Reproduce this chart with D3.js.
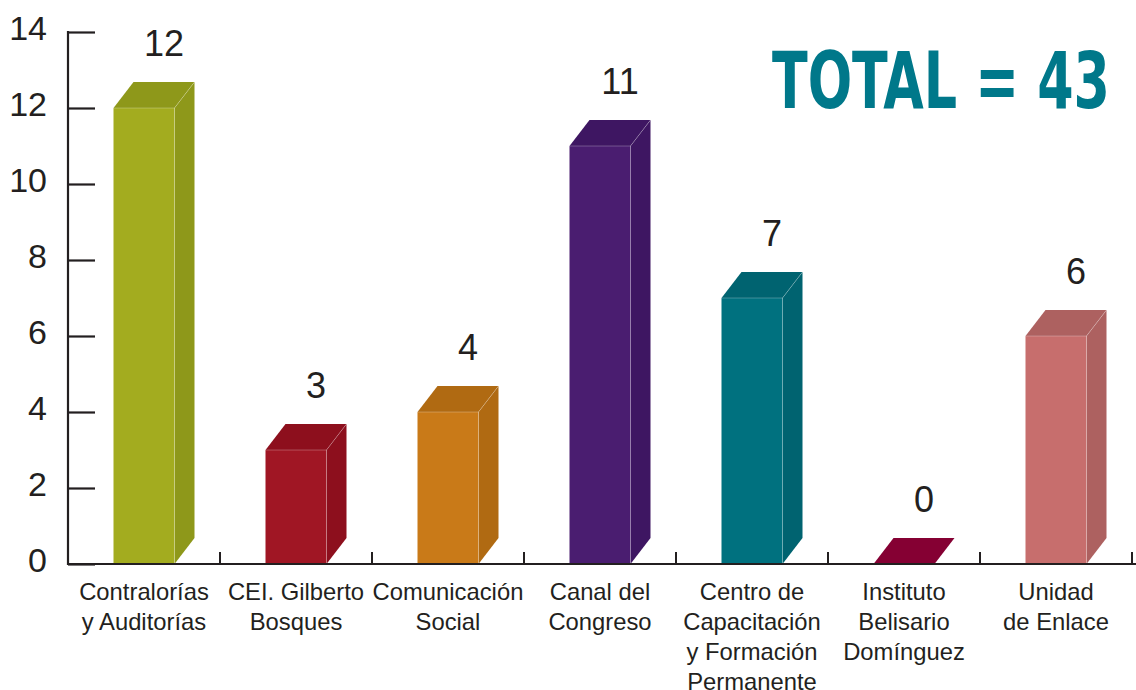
<!DOCTYPE html>
<html>
<head>
<meta charset="utf-8">
<script src="https://cdn.jsdelivr.net/npm/d3@7"></script>
<style>
  html, body { margin: 0; padding: 0; background: #fff; }
  svg { display: block; }
</style>
</head>
<body>
<svg id="chart" width="1136" height="690"></svg>
<script>
// ---- data ----
const categories = [
  "Contralorías y Auditorías",
  "CEI. Gilberto Bosques",
  "Comunicación Social",
  "Canal del Congreso",
  "Centro de Capacitación y Formación Permanente",
  "Instituto Belisario Domínguez",
  "Unidad de Enlace"
];
const categoryLines = [
  ["Contralorías", "y Auditorías"],
  ["CEI. Gilberto", "Bosques"],
  ["Comunicación", "Social"],
  ["Canal del", "Congreso"],
  ["Centro de", "Capacitación", "y Formación", "Permanente"],
  ["Instituto", "Belisario", "Domínguez"],
  ["Unidad", "de Enlace"]
];
const values = [12, 3, 4, 11, 7, 0, 6];
const frontColors = ["#a3ac1f", "#a01624", "#c97a18", "#4a1d70", "#00717f", "#850033", "#c76e6d"];
const sideColors  = ["#8e981a", "#8d0f1d", "#b06a12", "#3e1662", "#006370", "#850033", "#ad6160"];
const yTicks = [0, 2, 4, 6, 8, 10, 12, 14];
const totalLabel = "TOTAL = 43";

// ---- layout ----
(function () {
const svg = d3.select("#chart");
const pLeft = 68, pRight = 1132, pTop = 32, pBottom = 564;
const x = d3.scaleBand().domain(categories).range([pLeft, pRight]).padding(0);
const y = d3.scaleLinear().domain([0, 14]).range([pBottom, pTop]);
const depthX = 20, depthY = -26;
const barW = 61;
const font = "'Liberation Sans', Arial, Helvetica, sans-serif";
const ink = "#231f20";

// bars
const g = svg.append("g");
categories.forEach((c, i) => {
  const cx = x(c) + x.bandwidth() / 2;
  const x0 = cx - barW / 2, x1 = cx + barW / 2;
  const yt = y(values[i]), yb = y(0);
  const grp = g.append("g");
  if (values[i] > 0) {
    grp.append("path")
      .attr("d", `M${x1},${yt} L${x1 + depthX},${yt + depthY} L${x1 + depthX},${yb + depthY} L${x1},${yb} Z`)
      .attr("fill", sideColors[i]);
    grp.append("rect")
      .attr("x", x0).attr("y", yt).attr("width", barW).attr("height", yb - yt)
      .attr("fill", frontColors[i]);
    grp.append("path")
      .attr("d", `M${x0},${yt} L${x0 + depthX},${yt + depthY} L${x1 + depthX},${yt + depthY} L${x1},${yt} Z`)
      .attr("fill", sideColors[i]);
    grp.append("path")
      .attr("d", `M${x0},${yt} L${x1},${yt} L${x1},${yb} M${x1},${yt} L${x1 + depthX},${yt + depthY}`)
      .attr("fill", "none").attr("stroke", "rgba(255,255,255,0.25)").attr("stroke-width", 1);
  } else {
    grp.append("path")
      .attr("d", `M${x0},${yt} L${x0 + depthX},${yt + depthY} L${x1 + depthX},${yt + depthY} L${x1},${yt} Z`)
      .attr("fill", frontColors[i]);
  }
  svg.append("text")
    .attr("x", cx + 20).attr("y", yt - 52)
    .attr("text-anchor", "middle")
    .attr("font-family", font).attr("font-size", 36)
    .attr("fill", ink)
    .text(values[i]);
});

// y axis
const yAxis = d3.axisLeft(y).tickValues(yTicks).tickSize(-27).tickPadding(21).tickFormat(d3.format("d"));
const ya = svg.append("g").attr("transform", `translate(${pLeft},0)`).call(yAxis);
ya.select(".domain").remove();
ya.selectAll(".tick line").attr("stroke", ink).attr("stroke-width", 2.2);
ya.selectAll(".tick text")
  .attr("font-family", font).attr("font-size", 34).attr("fill", ink)
  .attr("dy", "0.22em");
svg.append("line").attr("x1", pLeft).attr("x2", pLeft).attr("y1", pTop - 1).attr("y2", pBottom + 1)
  .attr("stroke", ink).attr("stroke-width", 2.2);

// x axis baseline + separators
svg.append("line").attr("x1", pLeft - 1).attr("x2", 1136).attr("y1", pBottom).attr("y2", pBottom)
  .attr("stroke", ink).attr("stroke-width", 2.2);
categories.forEach((c) => {
  const bx = x(c) + x.bandwidth();
  svg.append("line").attr("x1", bx).attr("x2", bx).attr("y1", pBottom - 12).attr("y2", pBottom)
    .attr("stroke", ink).attr("stroke-width", 2);
});

// category labels
categories.forEach((c, i) => {
  const cx = x(c) + x.bandwidth() / 2;
  const t = svg.append("text")
    .attr("text-anchor", "middle")
    .attr("font-family", font).attr("font-size", 23.8)
    .attr("fill", ink);
  categoryLines[i].forEach((ln, k) => {
    t.append("tspan").attr("x", cx).attr("y", 600 + k * 30).text(ln);
  });
});

// total
svg.append("text")
  .attr("x", 772).attr("y", 108)
  .attr("font-family", "'Liberation Sans Narrow', 'DejaVu Sans Condensed', Arial, sans-serif")
  .attr("font-weight", "bold").attr("font-size", 78)
  .attr("fill", "#00788a")
  .attr("textLength", 338).attr("lengthAdjust", "spacingAndGlyphs")
  .text(totalLabel);
})();
</script>
</body>
</html>
